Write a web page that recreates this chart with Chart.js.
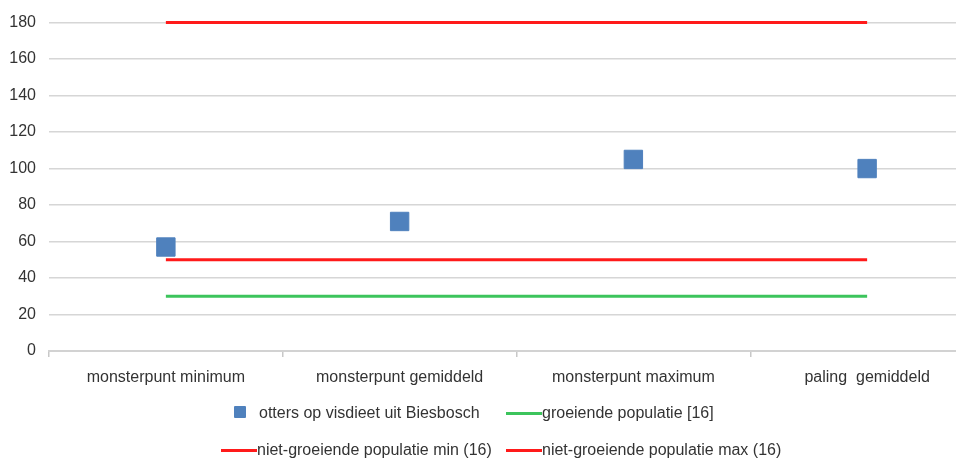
<!DOCTYPE html>
<html>
<head>
<meta charset="utf-8">
<script src="https://cdn.jsdelivr.net/npm/chart.js@4"></script>
<style>
  html, body { margin: 0; padding: 0; background: #fff; overflow: hidden; width: 956px; height: 462px; }
  #wrap { position: relative; width: 956px; height: 462px; overflow: hidden; }
  canvas { position: absolute; left: 0; top: 0; }
  .lg { position: absolute; font-family: "Liberation Sans", Arial, sans-serif; font-size: 16px; color: #333; white-space: nowrap; line-height: 18px; }
  .sw-sq { position: absolute; width: 12px; height: 12px; background: #4f81bd; border-radius: 1px; }
  .sw-ln { position: absolute; width: 36px; height: 3px; }
</style>
</head>
<body>
<div id="wrap">
  <canvas id="c" width="1000" height="462"></canvas>
  <div id="legend"></div>
</div>
<script>
const categories = ["monsterpunt minimum", "monsterpunt gemiddeld", "monsterpunt maximum", "paling  gemiddeld"];
const ottersValues = [57, 71, 105, 100];
const groeiendValues = [30, 30, 30, 30];
const nietGroeiendMin = [50, 50, 50, 50];
const nietGroeiendMax = [180, 180, 180, 180];
const yTicks = [0, 20, 40, 60, 80, 100, 120, 140, 160, 180];
const seriesNames = [
  "otters op visdieet uit Biesbosch",
  "groeiende populatie [16]",
  "niet-groeiende populatie min (16)",
  "niet-groeiende populatie max (16)"
];

const BLUE = '#4f81bd', GREEN = '#3cc45c', RED = '#ff1a1a';
const FONT = { family: '"Liberation Sans", Arial, sans-serif', size: 16 };
const TXT = '#333';

new Chart(document.getElementById('c'), {
  type: 'line',
  data: {
    labels: categories,
    datasets: [
      { label: seriesNames[0], data: ottersValues, showLine: false, pointStyle: 'rect',
        pointRadius: 13, pointHoverRadius: 13, backgroundColor: BLUE, borderColor: BLUE, pointBorderWidth: 1, order: 0, clip: false },
      { label: seriesNames[1], data: groeiendValues, borderColor: GREEN, borderWidth: 3, pointRadius: 0, fill: false, order: 1, clip: false },
      { label: seriesNames[2], data: nietGroeiendMin, borderColor: RED, borderWidth: 3, pointRadius: 0, fill: false, order: 1, clip: false },
      { label: seriesNames[3], data: nietGroeiendMax, borderColor: RED, borderWidth: 3, pointRadius: 0, fill: false, order: 1, clip: false }
    ]
  },
  options: {
    responsive: false,
    animation: false,
    devicePixelRatio: 1,
    layout: { padding: { top: 21, right: 16, left: 0, bottom: 0 } },
    plugins: { legend: { display: false }, tooltip: { enabled: false } },
    scales: {
      x: {
        type: 'category',
        offset: true,
        grid: { offset: true, drawOnChartArea: false, drawTicks: true, tickLength: 6, color: '#c8c8c8', lineWidth: 1.5 },
        border: { display: true, color: '#d2d2d2', width: 2 },
        ticks: { padding: 11, font: FONT, color: TXT, maxRotation: 0, autoSkip: false },
        afterFit: s => { s.height = 111; }
      },
      y: {
        min: yTicks[0],
        max: yTicks[yTicks.length - 1],
        afterBuildTicks: s => { s.ticks = yTicks.map(v => ({ value: v })); },
        grid: { color: '#d6d6d6', lineWidth: 1.5, drawTicks: false },
        border: { display: false },
        ticks: { padding: 13, font: FONT, color: TXT },
        afterFit: s => { s.width = 49; }
      }
    }
  }
});

// legend
const lg = document.getElementById('legend');
const items = [
  { type: 'sq', color: BLUE, sx: 234, tx: 259, y: 413, text: seriesNames[0] },
  { type: 'ln', color: GREEN, sx: 506, tx: 542, y: 413, text: seriesNames[1] },
  { type: 'ln', color: RED, sx: 221, tx: 257, y: 450, text: seriesNames[2] },
  { type: 'ln', color: RED, sx: 506, tx: 542, y: 450, text: seriesNames[3] }
];
items.forEach(it => {
  const sw = document.createElement('div');
  if (it.type === 'sq') {
    sw.className = 'sw-sq';
    sw.style.left = it.sx + 'px';
    sw.style.top = (it.y - 7) + 'px';
  } else {
    sw.className = 'sw-ln';
    sw.style.left = it.sx + 'px';
    sw.style.top = (it.y - 1) + 'px';
  }
  sw.style.background = it.color;
  lg.appendChild(sw);
  const t = document.createElement('div');
  t.className = 'lg';
  t.style.left = it.tx + 'px';
  t.style.top = (it.y - 9) + 'px';
  t.textContent = it.text;
  lg.appendChild(t);
});
</script>
</body>
</html>
